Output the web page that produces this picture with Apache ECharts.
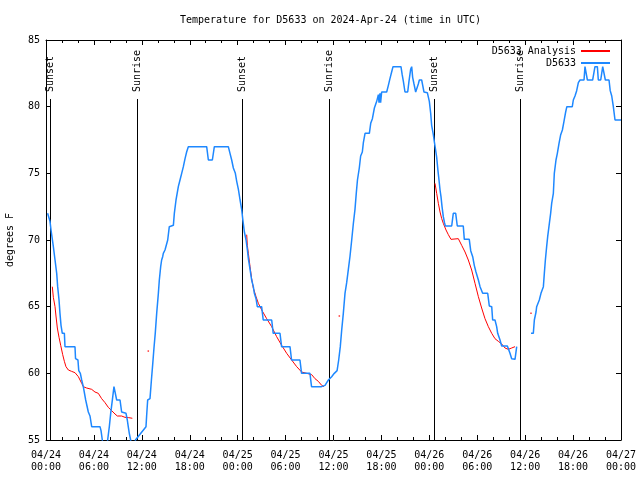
<!DOCTYPE html>
<html><head><meta charset="utf-8">
<script src="https://cdn.jsdelivr.net/npm/echarts@6/dist/echarts.min.js"></script>
<style>html,body{margin:0;padding:0;background:#fff}#c{width:640px;height:480px}</style>
</head><body><div id="c"></div>
<script>
// hours since 2024-04-24 00:00 UTC
const titleText = 'Temperature for D5633 on 2024-Apr-24 (time in UTC)';
const yAxisName = 'degrees F';
const seriesNames = ['D5633 Analysis', 'D5633'];
const eventHours = [0.55, 11.43, 24.58, 35.42, 48.6, 59.38];
const eventNames = ['Sunset', 'Sunrise', 'Sunset', 'Sunrise', 'Sunset', 'Sunrise'];

const obsSeg1 = [
[0.2,72],[0.3,72],[0.5,71.4],[0.63,70.75],[0.92,69.5],[1.13,68.5],[1.34,67.5],[1.46,66.5],[1.63,65.5],[1.75,64.5],[1.88,63.6],[2.04,63],[2.3,63],[2.38,62],[3.63,62],[3.7,61.1],[4.0,61],[4.1,60.2],[4.3,60],[4.47,59.5],[4.67,59],[4.97,58],[5.3,57.1],[5.51,56.8],[5.72,56],[6.76,56],[6.89,55.7],[7.05,55],[7.2,54],[7.6,54],[7.72,55],[7.93,56],[8.1,57],[8.33,58.1],[8.51,59],[8.64,58.9],[8.85,58],[9.27,58],[9.47,57.1],[10.02,57],[10.18,56.5],[10.3,56],[10.43,55.5],[10.6,55],[10.75,54],[11.05,54],[11.2,55],
[12.52,56],[12.6,56.8],[12.73,58],[13.02,58.1],[13.2,59.5],[13.35,60.6],[13.52,61.9],[13.68,63],[13.86,64.5],[14.07,66],[14.19,67],[14.36,68],[14.48,68.5],[14.61,68.75],[14.69,69],[14.9,69.25],[15.11,69.3],[15.24,70],[15.44,71],[15.95,71.1],[16.07,72],[16.28,73],[16.57,74],[16.78,74.5],[16.99,75],[17.2,75.5],[17.41,76.1],[17.61,76.6],[17.82,77],[20.12,77],[20.33,76],[20.83,76],[21.08,77],[22.83,77],
[23.04,76.5],[23.25,76],[23.46,75.4],[23.71,75],[23.88,74.4],[24.09,73.8],[24.3,73],[24.5,72.3],[24.63,71.6],[24.84,70.6],[25.05,70],[25.21,69.3],[25.34,68.6],[25.55,67.8],[25.75,67],[25.96,66.5],[26.09,66],[26.3,65.6],[26.46,65],[27.0,65],[27.2,64],[28.26,64],[28.45,63],[29.3,63],[29.5,62],[30.55,62],[30.75,61],[31.8,61],[32.0,60],[33.05,60],[33.25,59],[34.5,59],
[34.94,59.1],[35.15,59.3],[35.36,59.5],[35.77,59.75],[36.1,60],[36.45,60.2],[36.65,61],[36.85,62],[37.02,63.2],[37.23,64.5],[37.44,66],[37.65,66.8],[37.86,67.8],[38.07,68.8],[38.28,70],[38.48,71.2],[38.69,72.3],[38.85,73.5],[39.0,74.5],[39.23,75.4],[39.4,76.3],[39.61,76.6],[39.74,77.3],[39.95,78],[40.49,78],[40.66,78.75],[40.87,79.1],[41.12,79.9],[41.41,80.4],[41.62,80.9],[41.7,80.3],[41.82,81],[41.9,80.3],[42.03,81.1],[42.66,81.1],[42.87,81.6],[43.07,82.1],[43.28,82.6],[43.45,83],[44.45,83],[44.6,82.4],[44.75,81.9],[44.95,81.1],[45.29,81.1],[45.45,81.9],[45.66,82.8],[45.79,83],[45.91,82.2],[46.08,81.7],[46.29,81.1],[46.5,81.1],[46.62,81.7],[46.75,82],[47.04,82],[47.17,81.6],[47.33,81.1],[47.75,81.05],
[48.0,80.4],[48.17,79.5],[48.29,78.6],[48.5,77.9],[48.62,77.4],[48.75,76.9],[48.92,76.2],[49.08,75.2],[49.21,74.5],[49.34,73.75],[49.46,73.25],[49.59,72.5],[49.75,71.75],[49.9,71.3],[50.0,71.05],[50.8,71.05],[51.0,72],[51.3,72],[51.5,71.05],[52.25,71.05],[52.38,70.05],[53.0,70.05],[53.18,69.2],[53.43,68.75],[53.63,68.1],[53.84,67.6],[54.14,67],[54.35,66.5],[54.68,66],[55.31,66],[55.51,65.05],[55.81,65],[55.93,64],[56.22,64],[56.43,63.5],[56.56,63],[56.85,62.5],[57.06,62.05],[57.77,62.05],[57.89,61.9],[58.1,61.5],[58.31,61.1],[58.73,61.05],[58.94,62]
];
const obsSeg2 = [
[60.73,63],[61.02,63],[61.15,64],[61.36,64.6],[61.44,65],[61.65,65],[61.77,65.5],[61.98,66],[62.19,66],[62.28,66.5],[62.4,67.5],[62.53,68.5],[62.69,69.5],[62.82,70.25],[63.03,71.25],[63.19,72],[63.32,72.75],[63.53,73.5],[63.65,75],[63.86,76],[64.03,76.5],[64.24,77.25],[64.45,77.9],[64.66,78.25],[64.86,78.9],[65.07,79.6],[65.22,80],[65.9,80],[66.03,80.5],[66.24,80.8],[66.45,81.2],[66.66,81.8],[66.87,82],[67.37,82],[67.49,83],[67.62,83],[67.79,82],[68.45,82],[68.74,83],[69.04,83],[69.16,82],[69.46,82],[69.71,83],[69.87,83],[70.04,82],[70.5,82],[70.65,81.2],[70.84,80.8],[71.04,80],[71.25,79],[72,79]
];
const anaSeg1 = [
[0.79,66.5],[0.92,65.7],[1.13,65],[1.25,64.3],[1.42,63.4],[1.63,62.7],[1.84,62.1],[2.09,61.4],[2.3,60.9],[2.5,60.5],[2.8,60.25],[3.2,60.15],[3.63,60.05],[4.05,59.75],[4.47,59.25],[4.67,59],[5.09,58.9],[5.72,58.8],[6.13,58.6],[6.55,58.5],[6.97,58.1],[7.39,57.8],[7.8,57.45],[8.22,57.2],[8.64,56.95],[8.93,56.8],[9.47,56.8],[9.89,56.7],[10.31,56.68],[10.81,56.63]
];
const anaSeg2 = [
[25.13,70.4],[25.21,69.6],[25.34,69],[25.55,68],[25.75,67.1],[25.96,66.4],[26.3,65.75],[26.59,65.25],[27.01,64.75],[27.63,64.1],[28.26,63.5],[28.88,62.75],[29.51,62.1],[30.14,61.5],[30.76,61],[31.39,60.5],[32.01,60.1],[32.64,60],[33.27,59.9],[33.68,59.6],[34.1,59.4],[34.52,59.1],[34.81,59.0]
];
const anaSeg3 = [
[48.71,74.25],[48.92,73.5],[49.13,72.75],[49.34,72.1],[49.55,71.6],[49.75,71.25],[50.09,70.75],[50.38,70.4],[50.71,70.05],[51.63,70.1],[51.84,70],[52.05,69.6],[52.47,69.1],[52.88,68.5],[53.3,67.75],[53.72,66.75],[54.14,65.75],[54.55,64.9],[54.97,64.1],[55.39,63.5],[55.81,63.0],[56.22,62.6],[56.64,62.4],[57.06,62.2],[57.48,61.9],[57.89,61.8],[58.31,61.9],[58.73,62]
];
const anaDots = [[12.81,61.67],[36.73,64.3],[60.73,64.5]];

const FONT = '"DejaVu Sans Mono", "Liberation Mono", monospace';
const RED = '#ff0000', BLUE = '#1e88ff';

const anaData = anaSeg1.concat([[18, null]], anaSeg2, [[42, null]], anaSeg3);
const obsData = obsSeg1.concat([[59.8, null]], obsSeg2);

function pad(n){ return (n < 10 ? '0' : '') + n; }
function xLabel(v){
  const day = 24 + Math.floor(v / 24);
  const hr = Math.round(v % 24);
  return '04/' + pad(day) + '\n' + pad(hr) + ':00';
}

const chart = echarts.init(document.getElementById('c'), null, {renderer: 'canvas'});
const xBase = {type: 'value', min: 0, max: 72, interval: 6, splitLine: {show: false},
  axisLine: {show: true, onZero: false, lineStyle: {color: '#000', width: 1}}};
const yBase = {type: 'value', min: 55, max: 85, interval: 5, splitLine: {show: false},
  axisLine: {show: true, onZero: false, lineStyle: {color: '#000', width: 1}}};

chart.setOption({
  animation: false,
  backgroundColor: '#fff',
  title: {text: titleText, left: 180, top: 14, padding: 0, textAlign: 'left',
    textStyle: {fontFamily: FONT, fontSize: 10, fontWeight: 'normal', color: '#000', lineHeight: 12}},
  legend: {orient: 'vertical', right: 30, top: 45, padding: 0, align: 'right', itemWidth: 29, itemHeight: 2,
    itemGap: 0, icon: 'rect', data: seriesNames,
    textStyle: {fontFamily: FONT, fontSize: 10, color: '#000', lineHeight: 12}},
  grid: {left: 46, right: 19, top: 40, bottom: 40, containLabel: false, outerBoundsMode: 'none'},
  xAxis: [
    Object.assign({}, xBase, {position: 'bottom',
      axisTick: {show: true, inside: true, length: 5, lineStyle: {color: '#000'}},
      minorTick: {show: true, splitNumber: 3, length: 3, lineStyle: {color: '#000'}},
      axisLabel: {formatter: xLabel, fontFamily: FONT, fontSize: 10, color: '#000', lineHeight: 12, margin: 9}}),
    Object.assign({}, xBase, {position: 'top',
      axisTick: {show: true, inside: true, length: 5, lineStyle: {color: '#000'}},
      minorTick: {show: true, splitNumber: 3, length: 3, lineStyle: {color: '#000'}},
      axisLabel: {show: false}})
  ],
  yAxis: [
    Object.assign({}, yBase, {position: 'left', name: yAxisName, nameLocation: 'middle', nameGap: 31,
      nameTextStyle: {fontFamily: FONT, fontSize: 10, color: '#000'},
      axisTick: {show: true, inside: true, length: 5, lineStyle: {color: '#000'}},
      axisLabel: {fontFamily: FONT, fontSize: 10, color: '#000', margin: 6}}),
    Object.assign({}, yBase, {position: 'right',
      axisTick: {show: true, inside: true, length: 5, lineStyle: {color: '#000'}},
      axisLabel: {show: false}})
  ],
  series: [
    {type: 'custom', name: 'events', xAxisIndex: 0, yAxisIndex: 0, silent: true, z: 1,
      data: eventHours.map(function(h){ return [h, 55]; }),
      encode: {x: 0, y: 1},
      renderItem: function(params, api){
        const h = api.value(0);
        const b = api.coord([h, 55]);
        const t = api.coord([h, 85]);
        const x = Math.round(b[0]) + 0.5;
        return {type: 'group', children: [
          {type: 'line', shape: {x1: x, y1: b[1], x2: x, y2: t[1] + 59}, style: {stroke: '#000', lineWidth: 1}},
          {type: 'text', x: x, y: t[1] + 52, rotation: Math.PI / 2,
            style: {text: eventNames[params.dataIndex], font: '10px ' + FONT, fill: '#000', align: 'left', verticalAlign: 'middle'}}
        ]};
      }},
    {type: 'line', name: seriesNames[0], data: anaData, showSymbol: false, z: 2,
      lineStyle: {color: RED, width: 1}, itemStyle: {color: RED}},
    {type: 'scatter', name: seriesNames[0], data: anaDots, symbol: 'rect', symbolSize: 1.5, z: 2,
      itemStyle: {color: RED}},
    {type: 'line', name: seriesNames[1], data: obsData, showSymbol: false, z: 3,
      lineStyle: {color: BLUE, width: 1.5}, itemStyle: {color: BLUE}}
  ]
});
</script></body></html>
